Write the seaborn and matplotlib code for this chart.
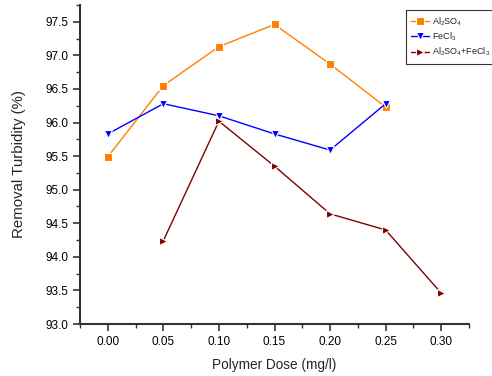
import matplotlib
matplotlib.use("Agg")
import matplotlib.pyplot as plt
import seaborn as sns
import pandas as pd
from matplotlib.ticker import MultipleLocator, FormatStrFormatter

sns.set_style("ticks")
plt.rcParams['font.family'] = ['Liberation Sans', 'DejaVu Sans']
plt.rcParams['mathtext.fontset'] = 'custom'
plt.rcParams['mathtext.rm'] = 'Liberation Sans'

dose_al = [0.00, 0.05, 0.10, 0.15, 0.20, 0.25]
al2so4 = [95.49, 96.55, 97.13, 97.46, 96.87, 96.23]
dose_fe = [0.00, 0.05, 0.10, 0.15, 0.20, 0.25]
fecl3 = [95.83, 96.28, 96.10, 95.83, 95.59, 96.28]
dose_mix = [0.05, 0.10, 0.15, 0.20, 0.25, 0.30]
mix = [94.24, 96.02, 95.35, 94.64, 94.40, 93.46]

labels = ["Al$_2$SO$_4$", "FeCl$_3$", "Al$_2$SO$_4$+FeCl$_3$"]
colors = ["#FF8000", "#0000FF", "#800000"]
markers = ["s", "v", ">"]

df = pd.concat([
    pd.DataFrame({"dose": dose_al, "val": al2so4, "series": labels[0]}),
    pd.DataFrame({"dose": dose_fe, "val": fecl3, "series": labels[1]}),
    pd.DataFrame({"dose": dose_mix, "val": mix, "series": labels[2]}),
])

fig = plt.figure(figsize=(4.92, 3.76), dpi=100)
ax = fig.add_axes([80/492, 52/376, 389/492, 319/376])

sns.lineplot(data=df, x="dose", y="val", hue="series", style="series",
             palette=dict(zip(labels, colors)), markers=dict(zip(labels, markers)),
             dashes=False, markersize=6, linewidth=1.0, markeredgewidth=0.8,
             ax=ax)

ax.set_xlim(-0.025, 0.325)
ax.set_ylim(93.0, 97.75)
ax.xaxis.set_major_locator(MultipleLocator(0.05))
ax.xaxis.set_minor_locator(MultipleLocator(0.025))
ax.yaxis.set_major_locator(MultipleLocator(0.5))
ax.yaxis.set_minor_locator(MultipleLocator(0.25))
ax.xaxis.set_major_formatter(FormatStrFormatter("%.2f"))
ax.yaxis.set_major_formatter(FormatStrFormatter("%.1f"))
ax.tick_params(axis="both", which="major", direction="out", length=5, width=1.2,
               labelsize=8.5, colors="#333333", labelcolor="black")
ax.tick_params(axis="both", which="minor", direction="out", length=3, width=1.0, colors="#333333")
for s in ["left", "bottom"]:
    ax.spines[s].set_linewidth(1.5)
    ax.spines[s].set_color("#333333")
for s in ["top", "right"]:
    ax.spines[s].set_visible(False)

ax.set_xlabel("Polymer Dose (mg/l)", fontsize=9.8, labelpad=7)
ax.set_ylabel("Removal Turbidity (%)", fontsize=10.8, labelpad=14)

leg = ax.legend(loc="upper left", bbox_to_anchor=(406/492, 1-10/376), bbox_transform=fig.transFigure,
                fontsize=6.5, frameon=True, fancybox=False, edgecolor="black",
                handlelength=2.0, borderpad=0.6, labelspacing=0.3, handletextpad=0.3,
                borderaxespad=0)
leg.get_frame().set_linewidth(0.8)
leg.set_title(None)

fig.savefig("out.png", dpi=100)
